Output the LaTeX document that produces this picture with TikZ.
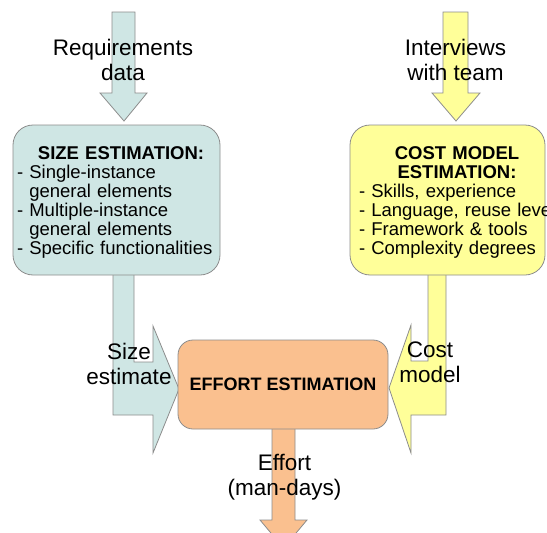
\documentclass[tikz,border=0pt]{standalone}
\usepackage{fontspec}
\setmainfont{Liberation Sans}
\definecolor{sizefill}{HTML}{CFE6E4}
\definecolor{costfill}{HTML}{FFFF99}
\definecolor{effortfill}{HTML}{FAC08F}
\definecolor{edge}{HTML}{8C8C8C}

\begin{document}
\begin{tikzpicture}[x=1pt, y=-1pt,
    box/.style={rectangle, rounded corners=20pt, draw=edge, line width=0.8pt, inner sep=0pt},
    boxtext/.style={inner sep=0pt, font=\fontsize{18.5}{19}\selectfont},
    label/.style={align=center, inner sep=0pt, font=\fontsize{22.5}{25}\selectfont},
    blockarrow/.style={draw=edge, line width=0.8pt, line join=miter}
]
\useasboundingbox (0,0) rectangle (547,533);
\clip (0,0) rectangle (547,533);

% inputs
\coordinate (reqin) at (123.5,12);
\coordinate (intin) at (455.5,12);
\filldraw[blockarrow, fill=sizefill] (reqin) ++(-11.5,0) -- (135,12) -- (135,93) -- (147,93)
    -- (124,121) -- (100,93) -- (112,93) -- cycle;
\filldraw[blockarrow, fill=costfill] (intin) ++(-12.5,0) -- (468,12) -- (468,93) -- (480,93)
    -- (456,121) -- (432,93) -- (443,93) -- cycle;

% bent arrows into the effort box, and the output
\filldraw[blockarrow, fill=sizefill] (113,270) -- (113,415) -- (153,415) -- (153,453)
    -- (179,389) -- (153,326) -- (153,362) -- (134,362) -- (134,270) -- cycle;
\filldraw[blockarrow, fill=costfill] (446,270) -- (446,415) -- (411,415) -- (411,453)
    -- (389,388) -- (411,325) -- (411,361) -- (428,361) -- (428,270) -- cycle;
\filldraw[blockarrow, fill=effortfill] (272,425) -- (272,520) -- (260,520) -- (283.5,548)
    -- (307,520) -- (295,520) -- (295,425) -- cycle;

% boxes
\node [box, fill=sizefill, minimum width=207pt, minimum height=150pt] (size) at (116.5,200) {};
\node [box, fill=costfill, minimum width=195pt, minimum height=150pt] (cost) at (447.5,200) {};
\node [box, fill=effortfill, rounded corners=15pt, minimum width=210pt, minimum height=89pt,
    font=\fontsize{18}{19}\selectfont\bfseries] (effort) at (283,384.5) {EFFORT ESTIMATION};

\node [boxtext, text width=208pt] (sizetext) at (121,202) {%
    \centering\textbf{SIZE ESTIMATION:}\par
    \raggedright - Single-instance\\ \hphantom{- }general elements\\
    - Multiple-instance\\ \hphantom{- }general elements\\
    - Specific functionalities\par};
\node [boxtext, text width=196pt] (costtext) at (457,202) {%
    \centering\textbf{COST MODEL}\\ \textbf{ESTIMATION:}\par
    \raggedright - Skills, experience\\
    \mbox{- Language, reuse level}\\
    - Framework \& tools\\
    - Complexity degrees\par};

% labels
\node [label] (req) at (123,59.5) {Requirements\\data};
\node [label] (interviews) at (455.5,59.5) {Interviews\\with team};
\node [label] (sizeest) at (129,364) {Size\\estimate};
\node [label] (costmodel) at (430,362) {Cost\\model};
\node [label] (effortout) at (284.5,477) {Effort\\(man-days)};

\end{tikzpicture}
\end{document}
